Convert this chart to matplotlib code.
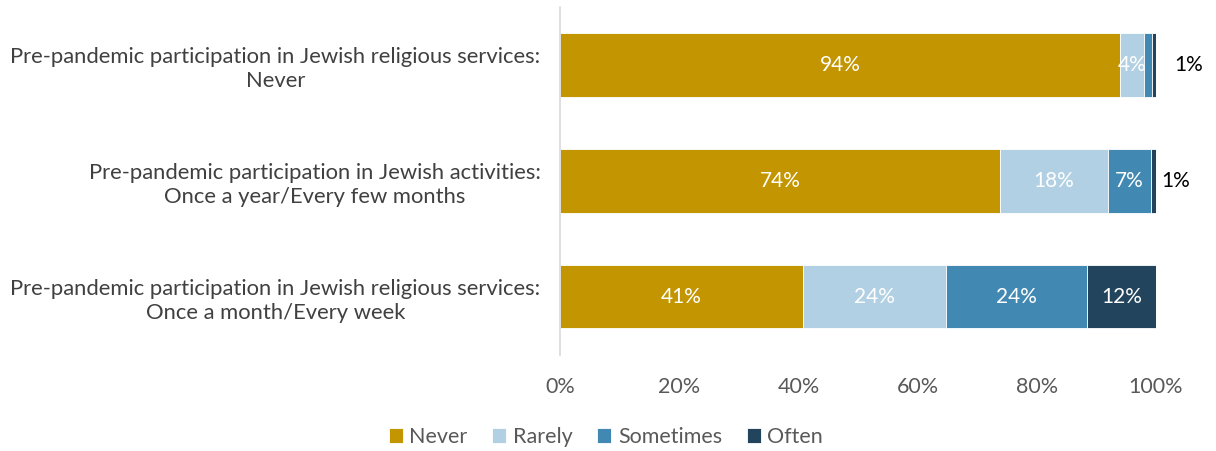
import matplotlib
matplotlib.use("Agg")
import matplotlib.pyplot as plt
import numpy as np

categories = [
    "Pre-pandemic participation in Jewish religious services:\nNever",
    "Pre-pandemic participation in Jewish activities:\nOnce a year/Every few months",
    "Pre-pandemic participation in Jewish religious services:\nOnce a month/Every week",
]
series_names = ["Never", "Rarely", "Sometimes", "Often"]
never = [94.0, 73.8, 40.8]
rarely = [4.0, 18.1, 24.0]
sometimes = [1.4, 7.3, 23.6]
often = [0.6, 0.8, 11.6]
colors = ["#C39500", "#B1D0E3", "#4188B3", "#22445C"]
x_ticks = [0, 20, 40, 60, 80, 100]

plt.rcParams["font.family"] = ["Lato", "DejaVu Sans"]

fig = plt.figure(figsize=(12.16, 4.51), dpi=100)
ax = fig.add_axes([560 / 1216, 1 - 354.5 / 451, 596 / 1216, 347.5 / 451])

series = [never, rarely, sometimes, often]
y = np.arange(len(categories))
left = np.zeros(len(categories))
bar_h = 0.55
for si, (vals, col) in enumerate(zip(series, colors)):
    vals = np.array(vals)
    ax.barh(y, vals, left=left, height=bar_h, color=col, label=series_names[si],
            edgecolor="white", linewidth=0.6)
    for i, v in enumerate(vals):
        cx = left[i] + v / 2
        txt = f"{round(v):.0f}%"
        if v >= 3:
            ax.text(cx, y[i], txt, ha="center", va="center", color="white",
                    fontsize=15)
    left += vals

# small end segments labelled beside the bar
ax.text(103.0, y[0], f"{round(often[0]):.0f}%", ha="left", va="center",
        color="black", fontsize=15)
ax.text(100.9, y[1], f"{round(often[1]):.0f}%", ha="left", va="center",
        color="black", fontsize=15)

ax.set_xlim(0, 100)
ax.set_ylim(2.5, -0.5)
ax.set_yticks(y)
ax.set_yticklabels(categories, fontsize=15.8, color="#404040", multialignment="center",
                   linespacing=1.25)
ax.set_xticks(x_ticks)
ax.set_xticklabels([f"{t}%" for t in x_ticks], fontsize=15.5, color="#595959")
ax.tick_params(axis="both", length=0)
ax.tick_params(axis="y", pad=14)
ax.tick_params(axis="x", pad=16)
for s in ["top", "right", "bottom"]:
    ax.spines[s].set_visible(False)
ax.spines["left"].set_color("#D9D9D9")
ax.spines["left"].set_linewidth(1.2)

handles, labels = ax.get_legend_handles_labels()
leg = fig.legend(handles, labels, loc="center", bbox_to_anchor=(606 / 1216, 1 - 437 / 451),
                 ncol=4, frameon=False, fontsize=15.5, handlelength=0.65, handleheight=0.65,
                 handletextpad=0.3, columnspacing=1.15)
for t in leg.get_texts():
    t.set_color("#595959")

fig.savefig("out.png", dpi=100)
